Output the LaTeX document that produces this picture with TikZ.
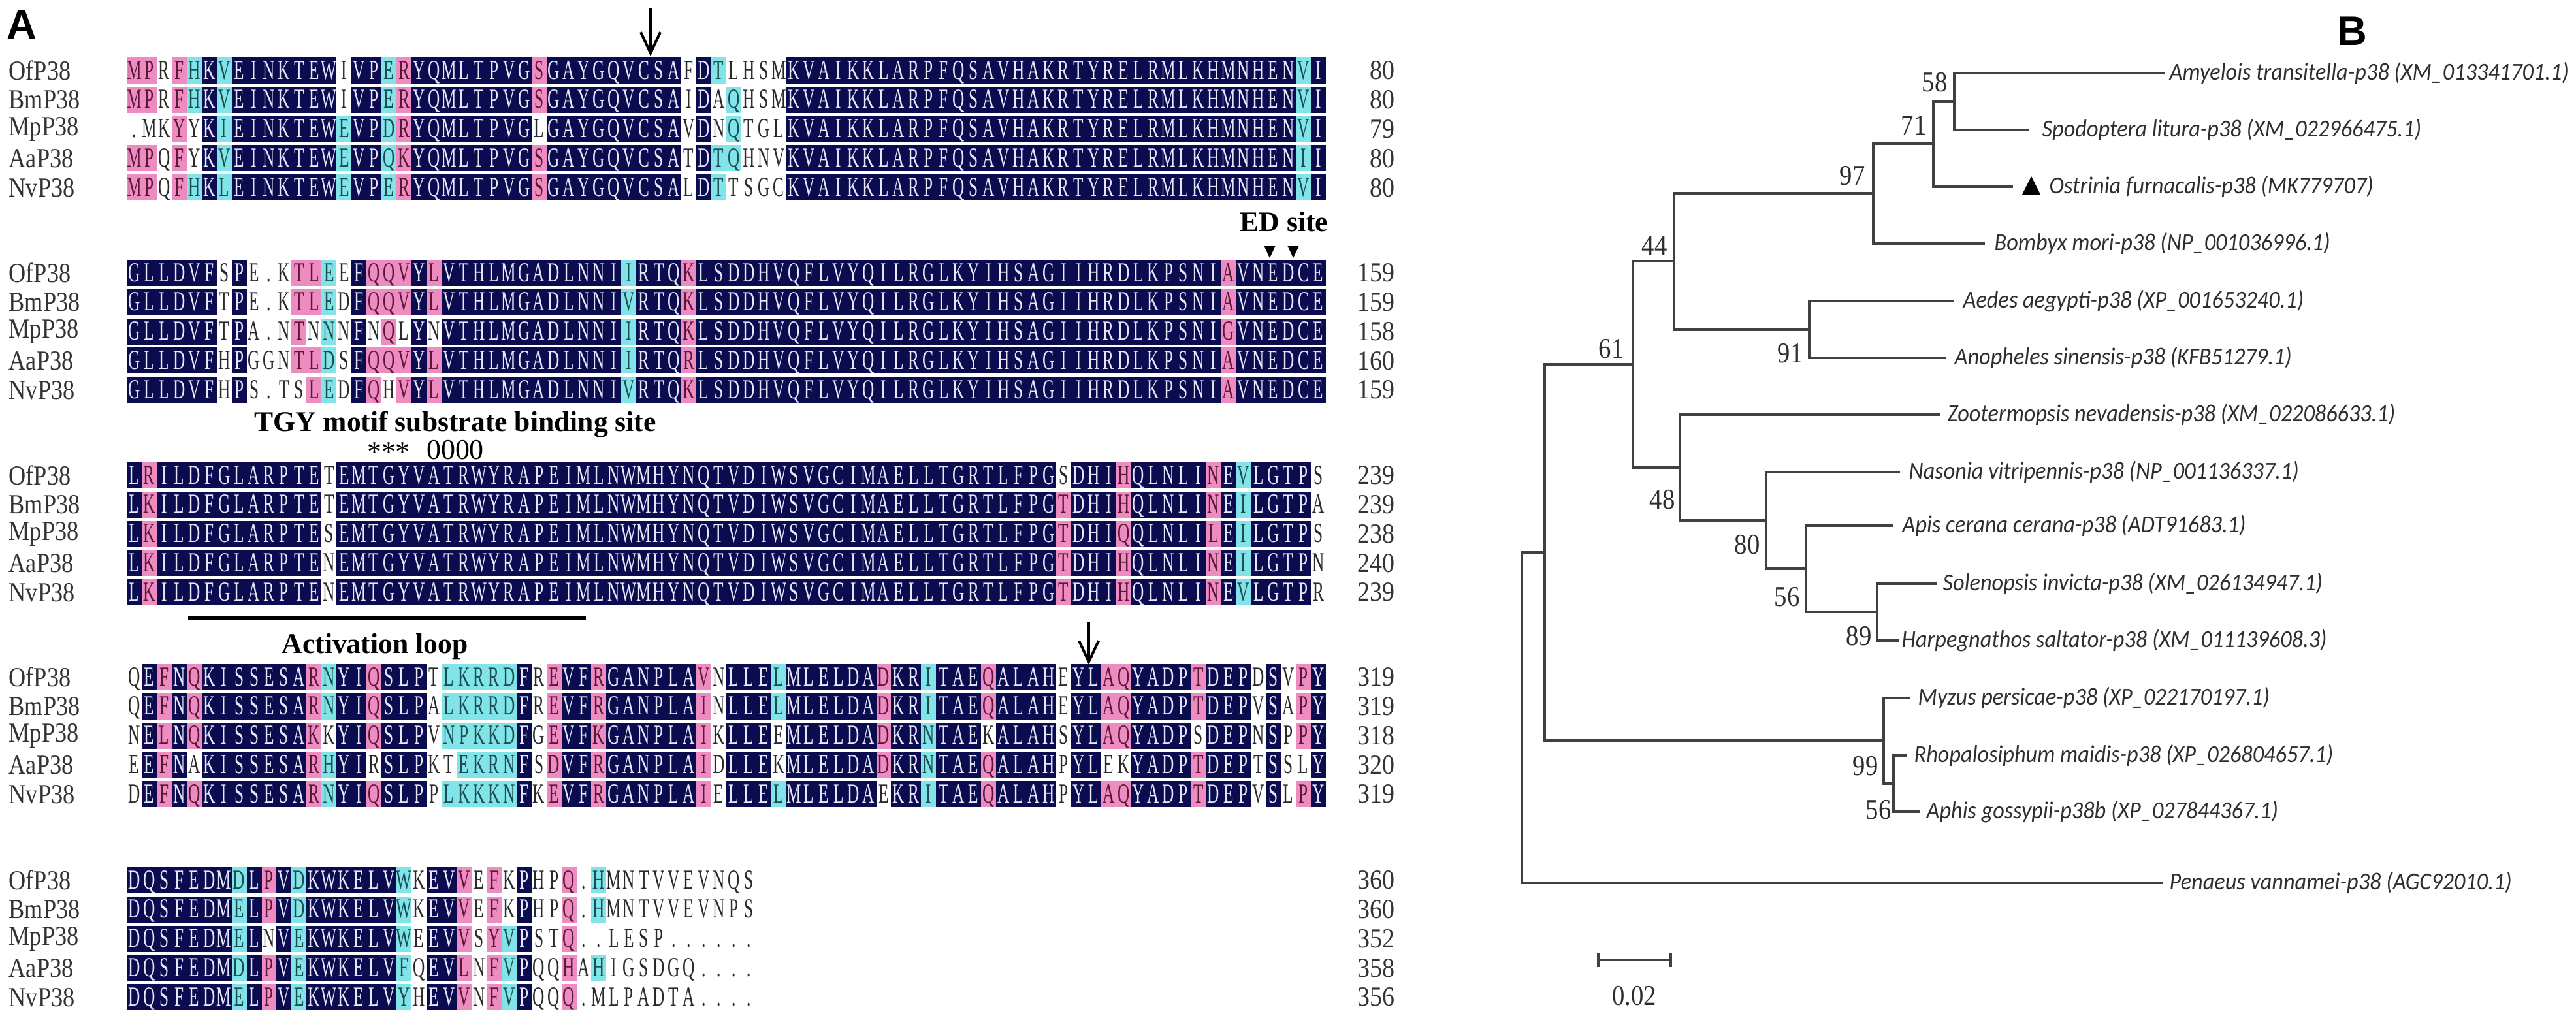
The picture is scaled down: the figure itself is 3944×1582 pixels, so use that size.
\documentclass[tikz,border=0pt]{standalone}
\usepackage{fontspec}
\setmainfont{Liberation Serif}
\newfontfamily\treefont{Carlito}
\newfontfamily\lblfont{Liberation Sans}
\usepackage{graphicx}
\usetikzlibrary{arrows.meta}

\definecolor{alcn}{HTML}{0B0B50}
\definecolor{alcp}{HTML}{EE8CC2}
\definecolor{alcc}{HTML}{80E4E8}
\definecolor{alcw}{HTML}{FFFFFF}
\definecolor{altn}{HTML}{E6E6F6}
\definecolor{altp}{HTML}{5A1838}
\definecolor{altc}{HTML}{1C4C50}
\definecolor{altw}{HTML}{2A2A2A}
\definecolor{treegray}{HTML}{404040}
\definecolor{treetext}{HTML}{2E2E2E}
\definecolor{labgray}{HTML}{333333}

\newcount\alcol
\makeatletter
\newcommand\alrow[4]{\def\alY{#1}\def\alId{#2}\global\alcol=0 \al@loop#3\relax#4\relax}
\def\al@loop#1#2\relax#3#4\relax{%
  \global\advance\alcol by 1
  \al@cell{#1}{#3}%
  \ifx\relax#2\relax\else\al@loop#2\relax#4\relax\fi}
\def\al@cell#1#2{%
  \node[alcell, fill=alc#2, text=alt#2] (\alId-\the\alcol) at ({194+(\the\alcol-0.5)*22.95}, \alY) {\scalebox{0.6}[1]{#1}};}
\makeatother
\newcommand\lf[1]{\scalebox{0.92}[1]{#1}}
\newcommand\bs[1]{\scalebox{0.88}[1]{#1}}

\tikzset{
 alcell/.style={inner sep=0pt, minimum width=0.2295cm, minimum height=0.40cm, text height=8.2pt, text depth=0.8pt, font=\fontsize{12}{12}\selectfont},
 rowlab/.style={anchor=west, inner sep=0pt, text=labgray, font=\fontsize{12}{12}\selectfont},
 numlab/.style={anchor=east, inner sep=0pt, text=labgray, font=\fontsize{12}{12}\selectfont},
 annot/.style={inner sep=0pt, font=\fontsize{12.4}{12.4}\selectfont\bfseries},
 treeline/.style={line width=0.045cm, draw=treegray},
 leaf/.style={anchor=west, inner sep=0pt, text=treetext, font=\treefont\fontsize{10.6}{10.6}\selectfont\itshape},
 boot/.style={inner sep=0pt, text=treetext, font=\fontsize{12.5}{12.5}\selectfont},
 sitearrow/.style={line width=0.04cm, -{Straight Barb[length=0.32cm,width=0.3cm]}},
 panel/.style={inner sep=0pt, font=\lblfont\bfseries\fontsize{18}{18}\selectfont},
}

\begin{document}
\begin{tikzpicture}[x=0.01cm,y=-0.01cm]
\fill[white] (0,0) rectangle (3944,1582);
\useasboundingbox (0,0) rectangle (3944,1582);

\node[panel] (pA) at (33,38) {A};
\node[panel] (pB) at (3601,48) {B};

% ---------- row labels ----------
\foreach \by [count=\b] in {108,418,728,1037,1348}{
  \foreach \nm [count=\i] in {OfP38,BmP38,MpP38,AaP38,NvP38}{
    \node[rowlab] (lab\b-\i) at (13,{\by+(\i-1)*44.8}) {\scalebox{0.86}[1]{\nm}};}}
\foreach \n [count=\i] in {80,80,79,80,80} \node[numlab] (num1-\i) at (2136,{108+(\i-1)*44.8}) {\scalebox{0.9}[1]{\n}};
\foreach \n [count=\i] in {159,159,158,160,159} \node[numlab] (num2-\i) at (2136,{418+(\i-1)*44.8}) {\scalebox{0.9}[1]{\n}};
\foreach \n [count=\i] in {239,239,238,240,239} \node[numlab] (num3-\i) at (2136,{728+(\i-1)*44.8}) {\scalebox{0.9}[1]{\n}};
\foreach \n [count=\i] in {319,319,318,320,319} \node[numlab] (num4-\i) at (2136,{1037+(\i-1)*44.8}) {\scalebox{0.9}[1]{\n}};
\foreach \n [count=\i] in {360,360,352,358,356} \node[numlab] (num5-\i) at (2136,{1348+(\i-1)*44.8}) {\scalebox{0.9}[1]{\n}};

% ---------- block 1 ----------
\alrow{108}{a1of}{MPRFHKVEIN KTEWIVPERY QMLTPVGSGA YGQVCSAFDT LHSMKVAIKK LARPFQSAVH AKRTYRELRM LKHMNHENVI}{ppwpcncnnn nnnnwnncpn nnnnnnnpnn nnnnnnnwnc wwwwnnnnnn nnnnnnnnnn nnnnnnnnnn nnnnnnnncn}
\alrow{152.8}{a1bm}{MPRFHKVEIN KTEWIVPERY QMLTPVGSGA YGQVCSAIDA QHSMKVAIKK LARPFQSAVH AKRTYRELRM LKHMNHENVI}{ppwpcncnnn nnnnwnncpn nnnnnnnpnn nnnnnnnwnw cwwwnnnnnn nnnnnnnnnn nnnnnnnnnn nnnnnnnncn}
\alrow{197.6}{a1mp}{.MKYYKIEIN KTEWEVPDRY QMLTPVGLGA YGQVCSAVDN QTGLKVAIKK LARPFQSAVH AKRTYRELRM LKHMNHENVI}{wwwpwncnnn nnnncnncpn nnnnnnnwnn nnnnnnnwnw cwwwnnnnnn nnnnnnnnnn nnnnnnnnnn nnnnnnnncn}
\alrow{242.4}{a1aa}{MPQFYKVEIN KTEWEVPQKY QMLTPVGSGA YGQVCSATDT QHNVKVAIKK LARPFQSAVH AKRTYRELRM LKHMNHENII}{ppwpwncnnn nnnncnncpn nnnnnnnpnn nnnnnnnwnc cwwwnnnnnn nnnnnnnnnn nnnnnnnnnn nnnnnnnncn}
\alrow{287.2}{a1nv}{MPQFHKLEIN KTEWEVPERY QMLTPVGSGA YGQVCSALDT TSGCKVAIKK LARPFQSAVH AKRTYRELRM LKHMNHENVI}{ppwpcncnnn nnnncnncpn nnnnnnnpnn nnnnnnnwnc wwwwnnnnnn nnnnnnnnnn nnnnnnnnnn nnnnnnnncn}

% ---------- block 2 ----------
\alrow{418}{a2of}{GLLDVFSPE. KTLEEFQQVY LVTHLMGADL NNIIRTQKLS DDHVQFLVYQ ILRGLKYIHS AGIIHRDLKP SNIAVNEDCE}{nnnnnnwnww wppcwnpppn pnnnnnnnnn nnncnnnpnn nnnnnnnnnn nnnnnnnnnn nnnnnnnnnn nnnpnnnnnn}
\alrow{462.8}{a2bm}{GLLDVFTPE. KTLEDFQQVY LVTHLMGADL NNIVRTQKLS DDHVQFLVYQ ILRGLKYIHS AGIIHRDLKP SNIAVNEDCE}{nnnnnnwnww wppcwnpppn pnnnnnnnnn nnncnnnpnn nnnnnnnnnn nnnnnnnnnn nnnnnnnnnn nnnpnnnnnn}
\alrow{507.6}{a2mp}{GLLDVFTPA. NTNNNFNQLY NVTHLMGADL NNIIRTQKLS DDHVQFLVYQ ILRGLKYIHS AGIIHRDLKP SNIGVNEDCE}{nnnnnnwnww wpwcwnwpwn wnnnnnnnnn nnncnnnpnn nnnnnnnnnn nnnnnnnnnn nnnnnnnnnn nnnpnnnnnn}
\alrow{552.4}{a2aa}{GLLDVFHPGG NTLDSFQQVY LVTHLMGADL NNIIRTQRLS DDHVQFLVYQ ILRGLKYIHS AGIIHRDLKP SNIAVNEDCE}{nnnnnnwnww wppcwnpppn pnnnnnnnnn nnncnnnpnn nnnnnnnnnn nnnnnnnnnn nnnnnnnnnn nnnpnnnnnn}
\alrow{597.2}{a2nv}{GLLDVFHPS. TSLEDFQHVY LVTHLMGADL NNIVRTQKLS DDHVQFLVYQ ILRGLKYIHS AGIIHRDLKP SNIAVNEDCE}{nnnnnnwnww wwpcwnpwpn pnnnnnnnnn nnncnnnpnn nnnnnnnnnn nnnnnnnnnn nnnnnnnnnn nnnpnnnnnn}

% ---------- block 3 ----------
\alrow{728}{a3of}{LRILDFGLAR PTETEMTGYV ATRWYRAPEI MLNWMHYNQT VDIWSVGCIM AELLTGRTLF PGSDHIHQLN LINEVLGTPS}{npnnnnnnnn nnnwnnnnnn nnnnnnnnnn nnnnnnnnnn nnnnnnnnnn nnnnnnnnnn nnwnnnpnnn nnpncnnnnw}
\alrow{772.8}{a3bm}{LKILDFGLAR PTETEMTGYV ATRWYRAPEI MLNWMHYNQT VDIWSVGCIM AELLTGRTLF PGTDHIHQLN LINEILGTPA}{npnnnnnnnn nnnwnnnnnn nnnnnnnnnn nnnnnnnnnn nnnnnnnnnn nnnnnnnnnn nnpnnnpnnn nnpncnnnnw}
\alrow{817.6}{a3mp}{LKILDFGLAR PTESEMTGYV ATRWYRAPEI MLNWMHYNQT VDIWSVGCIM AELLTGRTLF PGTDHIQQLN LILEILGTPS}{npnnnnnnnn nnnwnnnnnn nnnnnnnnnn nnnnnnnnnn nnnnnnnnnn nnnnnnnnnn nnpnnnpnnn nnpncnnnnw}
\alrow{862.4}{a3aa}{LKILDFGLAR PTENEMTGYV ATRWYRAPEI MLNWMHYNQT VDIWSVGCIM AELLTGRTLF PGTDHIHQLN LINEILGTPN}{npnnnnnnnn nnnwnnnnnn nnnnnnnnnn nnnnnnnnnn nnnnnnnnnn nnnnnnnnnn nnpnnnpnnn nnpncnnnnw}
\alrow{907.2}{a3nv}{LKILDFGLAR PTENEMTGYV ATRWYRAPEI MLNWMHYNQT VDIWSVGCIM AELLTGRTLF PGTDHIHQLN LINEVLGTPR}{npnnnnnnnn nnnwnnnnnn nnnnnnnnnn nnnnnnnnnn nnnnnnnnnn nnnnnnnnnn nnpnnnpnnn nnpncnnnnw}

% ---------- block 4 ----------
\alrow{1037}{a4of}{QEFNQKISSE SARNYIQSLP TLKRRDFREV FRGANPLAVN LLELMLELDA DKRITAEQAL AHEYLAQYAD PTDEPDSVPY}{wnpnpnnnnn nnpcnnpnnn wcccccnwpn npnnnnnnpw nnncnnnnnn pnncnnnpnn nnwnnppnnn npnnnwnwpn}
\alrow{1081.8}{a4bm}{QEFNQKISSE SARNYIQSLP ALKRRDFREV FRGANPLAIN LLELMLELDA DKRITAEQAL AHEYLAQYAD PTDEPVSAPY}{wnpnpnnnnn nnpcnnpnnn wcccccnwpn npnnnnnnpw nnncnnnnnn pnncnnnpnn nnwnnppnnn npnnnwnwpn}
\alrow{1126.6}{a4mp}{NELNQKISSE SAKKYIQSLP VNPKKDFGEV FKGANPLAIK LLEEMLELDA DKRNTAEKAL AHSYLAQYAD PSDEPNSPPY}{wnpnpnnnnn nnpwnnpnnn wcccccnwpn npnnnnnnpw nnnwnnnnnn pnncnnnwnn nnwnnppnnn nwnnnwnwpn}
\alrow{1171.4}{a4aa}{EEFNAKISSE SARHYIRSLP KTEKRNFSDV FRGANPLAID LLEKMLELDA DKRNTAEQAL AHPYLEKYAD PTDEPTSSLY}{wnpnwnnnnn nnpcnnwnnn wwccccnwpn npnnnnnnpw nnnwnnnnnn pnncnnnpnn nnwnnwwnnn npnnnwnwwn}
\alrow{1216.2}{a4nv}{DEFNQKISSE SARNYIQSLP PLKKKNFKEV FRGANPLAIE LLELMLELDA EKRITAEQAL AHPYLAQYAD PTDEPVSLPY}{wnpnpnnnnn nnpcnnpnnn wcccccnwpn npnnnnnnpw nnncnnnnnn wnncnnnpnn nnwnnppnnn npnnnwnwpn}

% ---------- block 5 ----------
\alrow{1348}{a5of}{DQSFEDMDLP VDKWKELVWK EVVEFKPHPQ .HMNTVVEVN QS}{nnnnnnncnp ncnnnnnncw nnpwpwnwwp wcwwwwwwww ww}
\alrow{1392.8}{a5bm}{DQSFEDMELP VDKWKELVWK EVVEFKPHPQ .HMNTVVEVN PS}{nnnnnnncnp ncnnnnnncw nnpwpwnwwp wcwwwwwwww ww}
\alrow{1437.6}{a5mp}{DQSFEDMELN VEKWKELVWE EVVSYVPSTQ ..LESP.... ..}{nnnnnnncnw ncnnnnnncw nnpwpcnwwp wwwwwwwwww ww}
\alrow{1482.4}{a5aa}{DQSFEDMDLP VEKWKELVFQ EVLNFVPQQH AHIGSDGQ.. ..}{nnnnnnncnp ncnnnnnncw nnpwpcnwwp wcwwwwwwww ww}
\alrow{1527.2}{a5nv}{DQSFEDMELP VEKWKELVYH EVVNFVPQQQ .MLPADTA.. ..}{nnnnnnncnp ncnnnnnncw nnpwpcnwwp wwwwwwwwww ww}

% ---------- annotations ----------
\coordinate (ar1a) at (996,12); \coordinate (ar1b) at (996,86);
\draw[sitearrow] (ar1a) -- (ar1b);
\coordinate (ar2a) at (1667,952); \coordinate (ar2b) at (1667,1018);
\draw[sitearrow] (ar2a) -- (ar2b);
\node[annot] (edsite) at (1966,340) {ED site};
\fill (1935,376) -- (1953,376) -- (1944,395) -- cycle;
\fill (1971,376) -- (1989,376) -- (1980,395) -- cycle;
\node[annot] (tgy) at (697,650) {TGY motif substrate binding site};
\node[inner sep=0pt, font=\fontsize{12.5}{12.5}\selectfont] (stars) at (595,692) {***};
\node[inner sep=0pt, font=\fontsize{12.5}{12.5}\selectfont] (oooo) at (697,689) {0000};
\coordinate (al1) at (288,946); \coordinate (al2) at (897,946);
\draw[line width=0.06cm] (al1) -- (al2);
\node[annot] (actloop) at (574,990) {Activation loop};

% ---------- tree ----------
\coordinate (r) at (2330,1099);
\coordinate (nX) at (2365,846);
\coordinate (n61) at (2500,558);
\coordinate (n44) at (2563,400);
\coordinate (n97) at (2868,296);
\coordinate (n71) at (2960,220);
\coordinate (n58) at (2992,155);
\coordinate (n91) at (2770,505);
\coordinate (n48) at (2572,716);
\coordinate (n80) at (2704,797);
\coordinate (n56) at (2765,871);
\coordinate (n89) at (2874,937);
\coordinate (n99) at (2884,1134);
\coordinate (n56b) at (2899,1200);
\coordinate (lAm) at (3314,112);
\coordinate (lSp) at (3107,199);
\coordinate (lOs) at (3082,286);
\coordinate (lBo) at (3039,373);
\coordinate (lAe) at (2992,461);
\coordinate (lAn) at (2980,548);
\coordinate (lZo) at (2970,635);
\coordinate (lNa) at (2909,723);
\coordinate (lAp) at (2899,805);
\coordinate (lSo) at (2965,894);
\coordinate (lHa) at (2907,981);
\coordinate (lMy) at (2924,1069);
\coordinate (lRh) at (2919,1157);
\coordinate (lAph) at (2940,1243);
\coordinate (lPe) at (3311,1352);

\draw[treeline] (lAm) -| (n58) |- (lSp);
\draw[treeline] (n58) -| (n71) |- (lOs);
\draw[treeline] (n71) -| (n97) |- (lBo);
\draw[treeline] (n97) -| (n44) |- (n91);
\draw[treeline] (lAe) -| (n91) |- (lAn);
\draw[treeline] (n44) -| (n61) |- (n48);
\draw[treeline] (lZo) -| (n48) |- (n80);
\draw[treeline] (lNa) -| (n80) |- (n56);
\draw[treeline] (lAp) -| (n56) |- (n89);
\draw[treeline] (lSo) -| (n89) |- (lHa);
\draw[treeline] (n61) -| (nX) |- (n99);
\draw[treeline] (lMy) -| (n99) |- (n56b);
\draw[treeline] (lRh) -| (n56b) |- (lAph);
\draw[treeline] (nX) -| (r) |- (lPe);

\node[leaf] (tAm) at (3321,112) {\lf{Amyelois transitella-p38 (XM\_013341701.1)}};
\node[leaf] (tSp) at (3126,199) {\lf{Spodoptera litura-p38 (XM\_022966475.1)}};
\fill (3096,298) -- (3124,298) -- (3110,270) -- cycle;
\node[leaf] (tOs) at (3137,286) {\lf{Ostrinia furnacalis-p38 (MK779707)}};
\node[leaf] (tBo) at (3053,373) {\lf{Bombyx mori-p38 (NP\_001036996.1)}};
\node[leaf] (tAe) at (3005,461) {\lf{Aedes aegypti-p38 (XP\_001653240.1)}};
\node[leaf] (tAn) at (2992,548) {\lf{Anopheles sinensis-p38 (KFB51279.1)}};
\node[leaf] (tZo) at (2981,635) {\lf{Zootermopsis nevadensis-p38 (XM\_022086633.1)}};
\node[leaf] (tNa) at (2922,723) {\lf{Nasonia vitripennis-p38 (NP\_001136337.1)}};
\node[leaf] (tAp) at (2912,805) {\lf{Apis cerana cerana-p38 (ADT91683.1)}};
\node[leaf] (tSo) at (2974,894) {\lf{Solenopsis invicta-p38 (XM\_026134947.1)}};
\node[leaf] (tHa) at (2911,981) {\lf{Harpegnathos saltator-p38 (XM\_011139608.3)}};
\node[leaf] (tMy) at (2936,1069) {\lf{Myzus persicae-p38 (XP\_022170197.1)}};
\node[leaf] (tRh) at (2930,1157) {\lf{Rhopalosiphum maidis-p38 (XP\_026804657.1)}};
\node[leaf] (tAph) at (2949,1243) {\lf{Aphis gossypii-p38b (XP\_027844367.1)}};
\node[leaf] (tPe) at (3321,1352) {\lf{Penaeus vannamei-p38 (AGC92010.1)}};

\node[boot] (b58) at (2962,126) {\bs{58}};
\node[boot] (b71) at (2930,192) {\bs{71}};
\node[boot] (b97) at (2836,269) {\bs{97}};
\node[boot] (b44) at (2533,376) {\bs{44}};
\node[boot] (b61) at (2467,534) {\bs{61}};
\node[boot] (b91) at (2741,541) {\bs{91}};
\node[boot] (b48) at (2545,765) {\bs{48}};
\node[boot] (b80) at (2675,834) {\bs{80}};
\node[boot] (b56) at (2736,914) {\bs{56}};
\node[boot] (b89) at (2846,974) {\bs{89}};
\node[boot] (b99) at (2856,1173) {\bs{99}};
\node[boot] (b56b) at (2876,1240) {\bs{56}};

\coordinate (sb1) at (2447,1470); \coordinate (sb2) at (2558,1470);
\draw[treeline] (sb1) -- (sb2);
\draw[treeline] ([yshift=-0.11cm]sb1) -- ([yshift=0.11cm]sb1);
\draw[treeline] ([yshift=-0.11cm]sb2) -- ([yshift=0.11cm]sb2);
\node[boot] (sblab) at (2502,1525) {\bs{0.02}};
\end{tikzpicture}
\end{document}
